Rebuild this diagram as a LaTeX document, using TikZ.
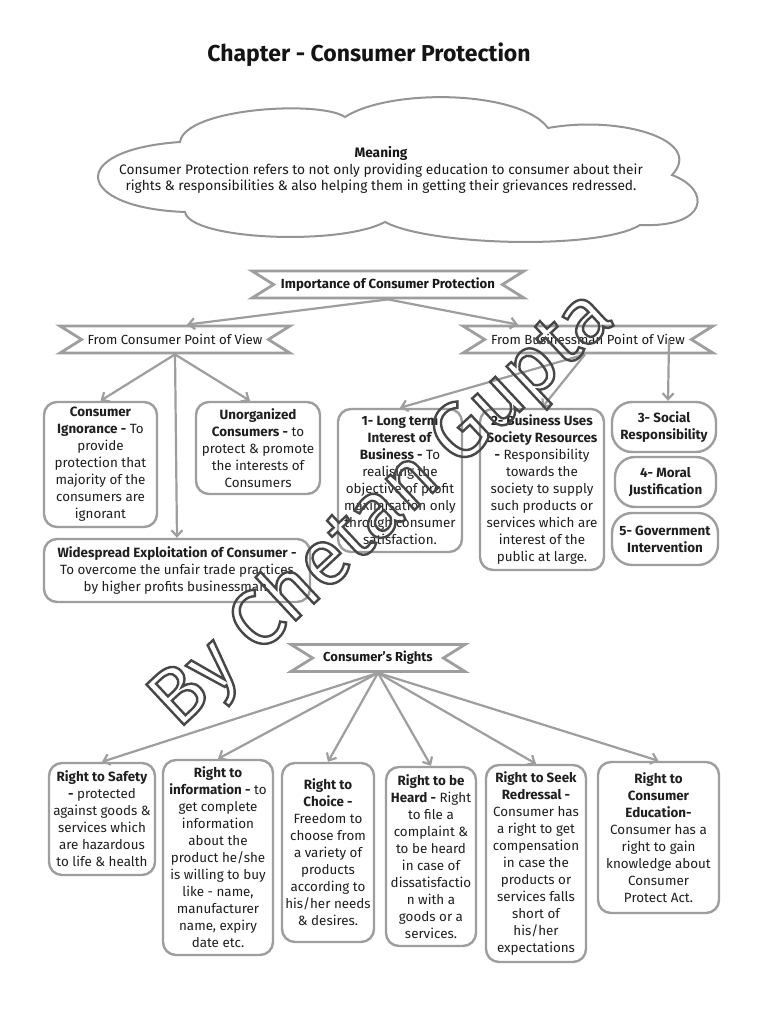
\documentclass[tikz,border=0pt]{standalone}
\usepackage{fontspec}
\setmainfont{Fira Sans}
\usetikzlibrary{arrows.meta,shapes.symbols}
\newcommand\hollow[1]{\special{pdf:literal direct 1 Tr 2.4 w}#1\special{pdf:literal direct 0 Tr}}

\begin{document}
\begin{tikzpicture}[x=1pt,y=-1pt,
  box/.style={draw=black!38, line width=2.4pt, rounded corners=13pt, fill=white,
              inner sep=0pt, align=center, text=black!88,
              font=\fontsize{13.4}{17}\selectfont},
  pill/.style={box, rounded corners=20pt},
  banner/.style={signal, signal to=nowhere, signal from=west and east,
                 signal pointer angle=64, draw=black!38, line width=2.8pt,
                 fill=white, minimum height=27pt, inner sep=0pt, text=black!90,
                 font=\fontsize{13.2}{15}\selectfont},
  link/.style={-{Straight Barb[length=6pt,width=11pt]}, draw=black!38, line width=2.2pt},
  cloudline/.style={draw=black!42, line width=2pt, fill=white},
  wmark/.style={rotate=43, font=\fontsize{80}{80}\selectfont, text=black!72}
]
\useasboundingbox (0,0) rectangle (768,1024);
\fill[white] (0,0) rectangle (768,1024);

\node[font=\fontsize{23}{26}\selectfont\bfseries, text=black!92] (title) at (369,55)
  {Chapter - Consumer Protection};

\draw[cloudline] (185,212) .. controls (75,208) and (65,150) .. (180,142)
  .. controls (185,108) and (320,100) .. (345,117)
  .. controls (390,88) and (520,90) .. (548,128)
  .. controls (620,115) and (705,140) .. (672,175)
  .. controls (712,190) and (708,228) .. (640,225)
  .. controls (600,250) and (430,246) .. (385,222)
  .. controls (340,246) and (190,240) .. (185,212) -- cycle;
\node[align=center, text=black!90, font=\fontsize{13.7}{16.5}\selectfont] (meaning) at (381,170)
  {\textbf{Meaning}\\Consumer Protection refers to not only providing education to consumer about their\\
   rights \& responsibilities \& also helping them in getting their grievances redressed.};

\node[banner, minimum width=272pt, font=\fontsize{13.2}{15}\selectfont\bfseries] (imp) at (388,284.5)
  {Importance of Consumer Protection};
\node[banner, minimum width=230pt] (cons) at (175,339.5) {From Consumer Point of View};
\node[banner, minimum width=250pt] (bus) at (588,339.5) {From Businessman Point of View};

\node[box, minimum width=113pt, minimum height=125pt] (ign) at (100.5,464.5)
  {\textbf{Consumer}\\\textbf{Ignorance -} To\\provide\\protection that\\majority of the\\consumers are\\ignorant};
\node[box, minimum width=124pt, minimum height=92pt] (unorg) at (258,448)
  {\textbf{Unorganized}\\\textbf{Consumers -} to\\protect \& promote\\the interests of\\Consumers};
\node[box, minimum width=266pt, minimum height=63pt] (wide) at (177,570.5)
  {\textbf{Widespread Exploitation of Consumer -}\\To overcome the unfair trade practices\\by higher profits businessman.};
\node[box, minimum width=124pt, minimum height=143pt] (lterm) at (400,480.5)
  {\textbf{1- Long term}\\\textbf{Interest of}\\\textbf{Business -} To\\realising the\\objective of profit\\maximisation only\\through consumer\\satisfaction.};
\node[box, minimum width=124pt, minimum height=161pt] (uses) at (542,489.5)
  {\textbf{2- Business Uses}\\\textbf{Society Resources}\\\textbf{-} Responsibility\\towards the\\society to supply\\such products or\\services which are\\interest of the\\public at large.};
\node[pill, minimum width=104pt, minimum height=50pt] (social) at (664,427)
  {\textbf{3- Social}\\\textbf{Responsibility}};
\node[pill, minimum width=101pt, minimum height=50pt] (moral) at (665.5,482)
  {\textbf{4- Moral}\\\textbf{Justification}};
\node[pill, minimum width=106pt, minimum height=52pt] (govt) at (665,539)
  {\textbf{5- Government}\\\textbf{Intervention}};

\draw[link] (imp.south) -- ([xshift=12pt]cons.north);
\draw[link] (imp.south) -- ([xshift=-70pt]bus.north);
\draw[link] (cons.south) -- (ign.north);
\draw[link] (cons.south) -- ([xshift=-8pt]unorg.north);
\draw[link] (cons.south) -- (wide.north);
\draw[link] ([xshift=-3pt]bus.south) -- (lterm.north);
\draw[link] ([xshift=-3pt]bus.south) -- (uses.north);
\draw[link] ([xshift=-25pt]bus.east) -- ([xshift=4pt]social.north);

\node[banner, minimum width=174pt, font=\fontsize{13}{15}\selectfont\bfseries] (rights) at (378,658)
  {Consumer's Rights};

\node[box, minimum width=106pt, minimum height=112pt] (safety) at (102,819)
  {\textbf{Right to Safety}\\\textbf{-} protected\\against goods \&\\services which\\are hazardous\\to life \& health};
\node[box, minimum width=110pt, minimum height=195pt] (info) at (218,857.5)
  {\textbf{Right to}\\\textbf{information -} to\\get complete\\information\\about the\\product he/she\\is willing to buy\\like - name,\\manufacturer\\name, expiry\\date etc.};
\node[box, minimum width=92pt, minimum height=179pt] (choice) at (328,852.5)
  {\textbf{Right to}\\\textbf{Choice -}\\Freedom to\\choose from\\a variety of\\products\\according to\\his/her needs\\\& desires.};
\node[box, minimum width=90pt, minimum height=179pt] (heard) at (431,856.5)
  {\textbf{Right to be}\\\textbf{Heard -} Right\\to file a\\complaint \&\\to be heard\\in case of\\dissatisfactio\\n with a\\goods or a\\services.};
\node[box, minimum width=100pt, minimum height=197pt] (seek) at (536,863.5)
  {\textbf{Right to Seek}\\\textbf{Redressal -}\\Consumer has\\a right to get\\compensation\\in case the\\products or\\services falls\\short of\\his/her\\expectations};
\node[box, minimum width=121pt, minimum height=151pt] (edu) at (658.5,837.5)
  {\textbf{Right to}\\\textbf{Consumer}\\\textbf{Education-}\\Consumer has a\\right to gain\\knowledge about\\Consumer\\Protect Act.};

\foreach \r in {safety,info,choice,heard,seek,edu}
  \draw[link] (rights.south) -- (\r.north);

\node[wmark] (wm) at (383,510) {\hollow{By Chetan Gupta}};
\end{tikzpicture}
\end{document}
